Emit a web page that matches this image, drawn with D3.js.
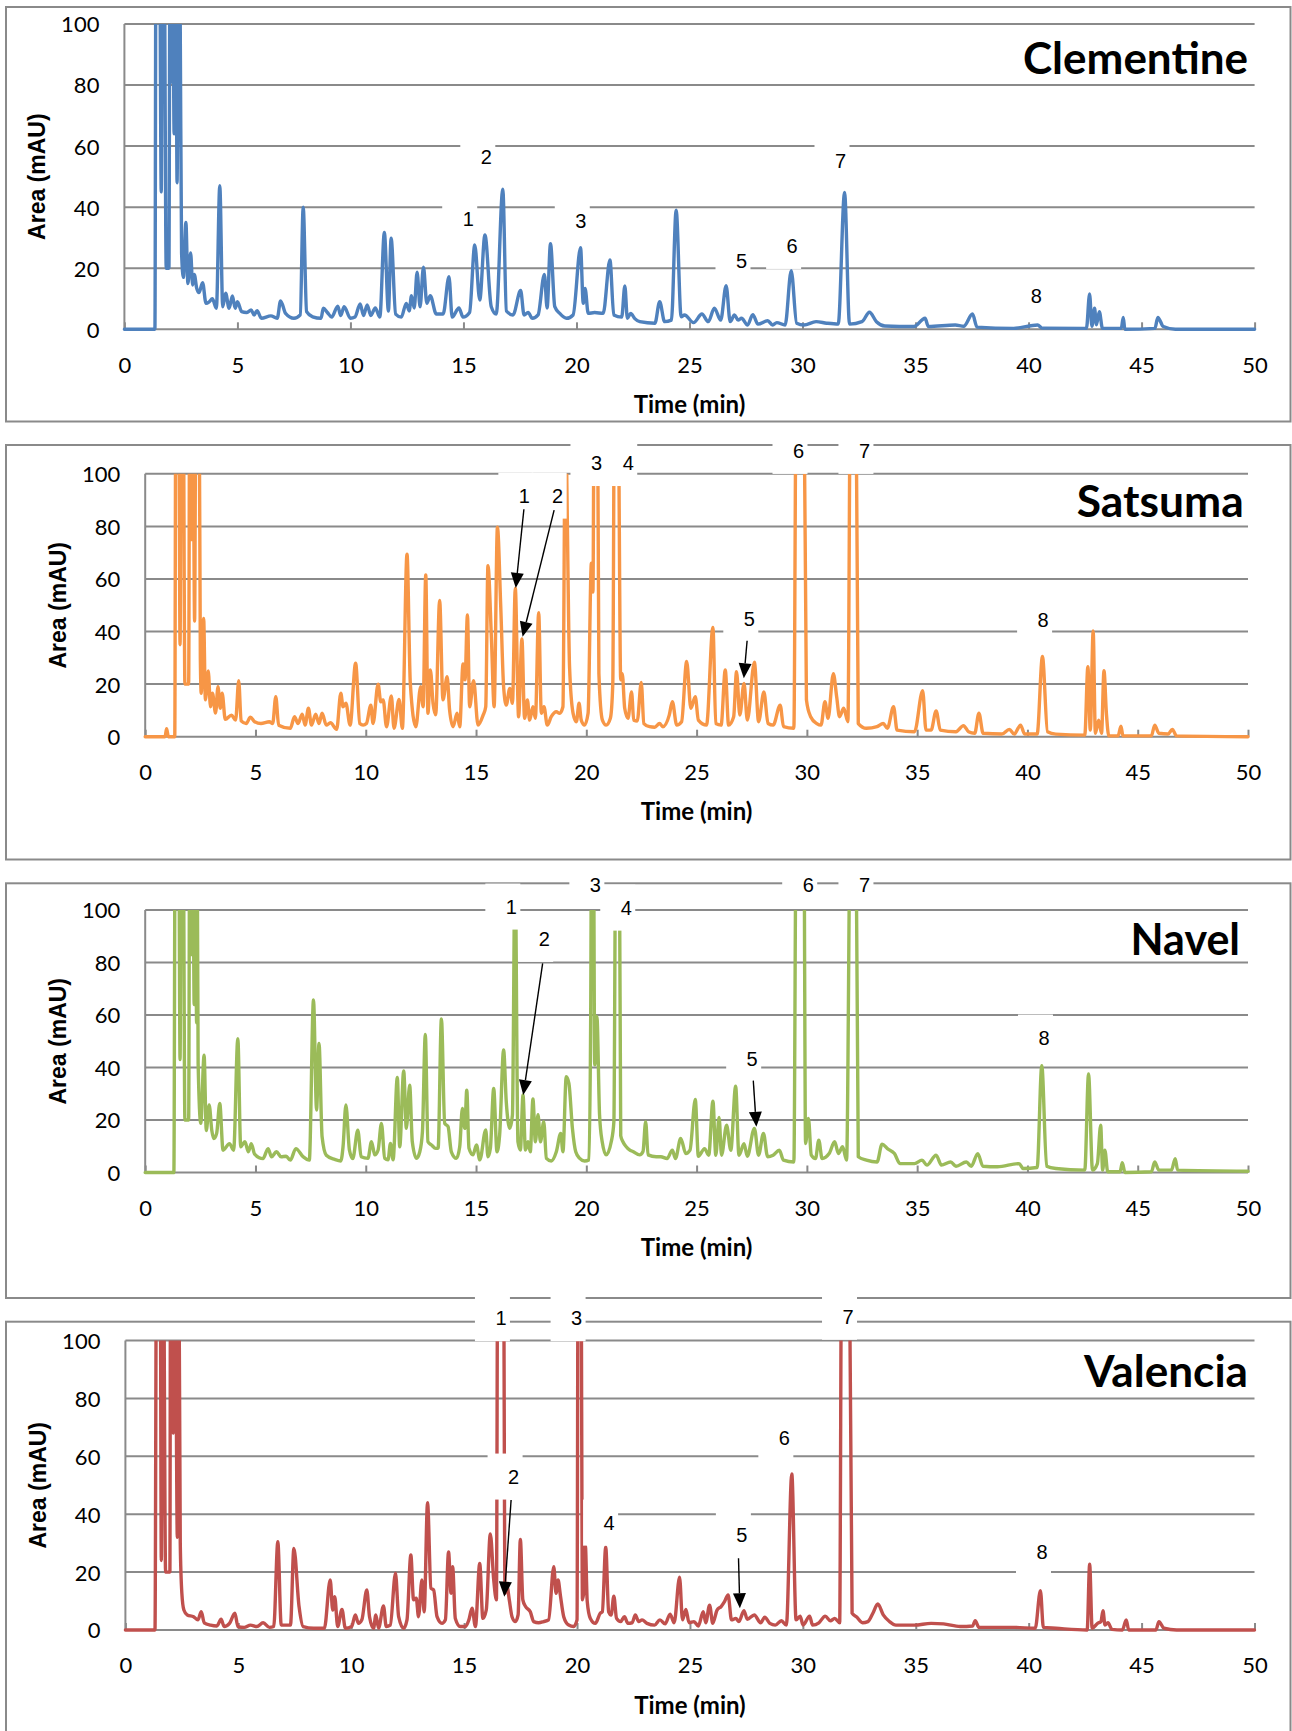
<!DOCTYPE html>
<html><head><meta charset="utf-8">
<script src="https://cdn.jsdelivr.net/npm/d3@7"></script>
<style>html,body{margin:0;padding:0;background:#fff}svg{display:block}</style>
</head><body>
<svg id="chart" width="1292" height="1731"></svg>
<script>
// ---------------- data ----------------
const xTicks = [0,5,10,15,20,25,30,35,40,45,50];
const yTicks = [0,20,40,60,80,100];
const cultivars = ["Clementine","Satsuma","Navel","Valencia"];
const seriesColors = ["#4F81BD","#F79646","#9BBB59","#C0504D"];

// [time (min), absorbance (mAU)] (values above 100 are off-scale)
const clementine = [[0,0],[1.35,0],[1.4,140],[1.55,140],[1.63,45],[1.69,140],[1.75,140],[1.85,20],[1.97,20],[2.02,140],[2.08,81],[2.13,140],[2.2,64],[2.27,140],[2.33,48],[2.4,140],[2.47,100],[2.53,25],[2.61,17],[2.72,35],[2.81,15],[2.93,25],[3.02,14.5],[3.09,18],[3.2,13.4],[3.3,12],[3.46,15.3],[3.61,8.5],[3.75,9],[3.89,10],[4.07,6.9],[4.22,47],[4.35,7.4],[4.48,11.8],[4.63,6.9],[4.78,10.9],[4.9,6.9],[5.0,9],[5.19,5.8],[5.4,5.5],[5.61,6.3],[5.74,4.7],[5.87,6.1],[6.06,3.6],[6.48,4.4],[6.76,3.6],[6.91,9.3],[7.13,5.2],[7.5,3.6],[7.78,4.7],[7.91,40],[8.06,5.8],[8.33,4.1],[8.7,3.6],[8.8,6.9],[8.98,5.5],[9.17,4],[9.44,7.6],[9.57,4.5],[9.72,7.4],[10.0,3.6],[10.2,4],[10.43,8.3],[10.58,4.5],[10.74,8],[10.9,4.5],[11.1,7],[11.3,4],[11.5,31.7],[11.68,6],[11.8,29.8],[12.0,5],[12.25,4],[12.47,8.5],[12.6,6],[12.7,11],[12.82,7],[12.95,18.7],[13.08,7.4],[13.23,20.3],[13.38,8.5],[13.53,11],[13.8,5],[14.1,5],[14.36,17.2],[14.5,4],[14.8,7],[14.98,4],[15.27,5.5],[15.5,27.6],[15.72,9.6],[15.95,30.9],[16.23,7.4],[16.45,5],[16.74,45.9],[16.9,6],[17.19,4.7],[17.53,12.7],[17.68,4.7],[17.86,5.5],[18.05,3.6],[18.3,4.7],[18.58,18],[18.7,7],[18.85,28],[19.04,7.4],[19.26,5.2],[19.56,3.6],[19.85,4.7],[20.18,26.7],[20.3,8.5],[20.38,13.4],[20.52,5.2],[20.8,5.5],[21.18,5.2],[21.48,22.7],[21.65,4.7],[22.0,4],[22.14,14.2],[22.25,3.6],[22.4,5.2],[22.58,3.5],[22.8,2.5],[23.47,2],[23.68,9],[23.9,2.5],[24.2,3],[24.41,39],[24.63,4.1],[24.78,4.7],[25.18,2.2],[25.55,5],[25.83,2.5],[26.1,6.9],[26.38,3],[26.62,14.3],[26.8,2.5],[26.99,4.7],[27.15,3],[27.3,3.6],[27.57,1.4],[27.8,4.8],[28.03,1.7],[28.46,2.8],[28.68,1.4],[28.86,2.2],[29.23,1.4],[29.5,19.2],[29.74,2],[30.06,1.4],[30.6,2.5],[31.07,2],[31.58,1.7],[31.86,44.8],[32.08,1.7],[32.63,2.5],[32.96,5.6],[33.27,2.5],[33.64,1.1],[34.93,0.9],[35.42,3.6],[35.57,0.9],[36.76,1.4],[37.13,1],[37.52,5],[37.72,0.7],[39.34,0.3],[40.4,1.4],[40.6,0.4],[42.56,0.3],[42.7,11.6],[42.8,1],[42.92,6.9],[43.0,1.5],[43.13,5.8],[43.27,0.3],[44.1,0.3],[44.19,3.9],[44.26,0],[45.59,0.3],[45.72,3.9],[45.96,0.9],[46.5,0],[50,0]];

const satsuma = [[0,0],[0.9,0],[0.97,3],[1.05,0],[1.34,0],[1.39,140],[1.52,140],[1.58,35],[1.64,140],[1.72,140],[1.8,20],[1.97,20],[2.02,140],[2.1,75],[2.16,140],[2.24,44],[2.3,140],[2.44,140],[2.5,30],[2.54,16.5],[2.65,45],[2.73,14],[2.86,25],[2.96,11.4],[3.05,16.5],[3.19,9],[3.3,19],[3.4,10.8],[3.49,16.5],[3.63,6.6],[3.91,8.2],[4.1,6.3],[4.24,21.3],[4.35,6],[4.58,5],[4.77,7.4],[4.96,5.7],[5.25,5],[5.63,5.7],[5.78,5],[5.92,15.2],[6.05,4.4],[6.58,3.2],[6.77,7.6],[6.93,5],[7.12,8.6],[7.25,4.4],[7.4,10.8],[7.54,4.4],[7.73,8.6],[7.88,5],[8.02,8.9],[8.21,4.4],[8.4,5.3],[8.68,2.8],[8.87,16.5],[8.97,11.4],[9.1,12.7],[9.29,4.4],[9.54,28],[9.73,5],[9.88,4.4],[10.03,5],[10.23,12],[10.33,5],[10.56,20],[10.68,13.3],[10.79,14],[10.94,3.8],[11.16,15.5],[11.28,3.2],[11.51,14.2],[11.66,3.2],[11.87,69.4],[12.02,20.3],[12.27,3.8],[12.49,19],[12.6,11.4],[12.72,61.5],[12.82,8.9],[12.93,25.4],[13.05,12.7],[13.17,8.3],[13.35,51.8],[13.5,14],[13.69,22.8],[13.8,10.2],[13.96,3.8],[14.14,8.9],[14.26,3.8],[14.41,27.7],[14.5,21.6],[14.61,46.3],[14.71,11.4],[14.89,21.3],[15.09,4.4],[15.32,8.2],[15.44,11.4],[15.54,65],[15.7,36.8],[15.82,11.4],[15.97,79.7],[16.12,49.5],[16.25,19],[16.37,12],[16.53,18.4],[16.65,12.7],[16.78,56.5],[16.93,7.6],[17.08,37.2],[17.2,7],[17.33,14],[17.43,6.3],[17.58,11.4],[17.69,7],[17.84,47.2],[17.96,8.9],[18.08,11.4],[18.23,4.4],[18.41,7.6],[18.64,9.5],[18.79,8.9],[18.94,11.4],[19.05,120],[19.24,26.6],[19.4,8.9],[19.55,5.7],[19.67,12.7],[19.77,6.3],[19.92,4.4],[20.08,8.9],[20.23,66],[20.3,55],[20.36,140],[20.5,140],[20.57,24],[20.73,6.3],[20.9,4.4],[21.09,7],[21.2,20],[21.28,140],[21.43,140],[21.56,21.6],[21.63,24],[21.74,10.8],[21.89,7],[22.05,17],[22.15,6.3],[22.31,6],[22.49,20.6],[22.61,5],[22.87,3.8],[23.1,3.6],[23.32,5],[23.47,3.8],[23.76,8.2],[23.9,13.3],[24.1,4.4],[24.32,5.7],[24.55,28.6],[24.74,10.8],[24.94,15.2],[25.08,6.3],[25.45,4.4],[25.74,41.6],[25.87,5],[26.11,4.4],[26.3,25.4],[26.45,4.4],[26.68,7.6],[26.81,24.7],[26.96,8.2],[27.15,20.3],[27.3,6.3],[27.62,28.3],[27.81,5.7],[28.05,17],[28.24,5],[28.47,4.4],[28.79,12],[28.94,3.8],[29.41,3.2],[29.52,140],[29.86,140],[29.98,14],[30.17,7.6],[30.45,5],[30.64,4.4],[30.82,13.3],[30.96,7],[31.2,24],[31.35,15.2],[31.48,7.6],[31.67,10.8],[31.86,5.7],[31.98,140],[32.22,140],[32.33,5],[32.7,3.2],[33.18,3.8],[33.46,5],[33.65,3.2],[33.93,11.4],[34.09,2.5],[34.88,1.9],[35.25,17.5],[35.4,2.5],[35.63,2.5],[35.86,9.8],[36.05,2.5],[36.76,1.9],[37.1,4.2],[37.33,1.9],[37.61,1.3],[37.8,8.9],[37.99,1.3],[38.84,1],[39.18,2.8],[39.4,1],[39.69,4.4],[39.87,1],[40.44,1],[40.68,30.5],[40.91,1.9],[41.29,1],[42.6,0.6],[42.74,26.6],[42.85,2.5],[42.98,40.2],[43.08,1.3],[43.23,6.3],[43.36,1.3],[43.47,25.1],[43.58,8.9],[43.69,0.3],[44.11,0.3],[44.24,4],[44.33,0.3],[45.62,0.3],[45.77,4.4],[45.96,1.3],[46.38,1],[46.57,2.8],[46.76,0.3],[50,0]];

const navel = [[0,0],[1.3,0],[1.36,140],[1.52,140],[1.58,43],[1.64,140],[1.72,140],[1.8,20],[1.97,20],[2.02,140],[2.1,83],[2.16,140],[2.22,64],[2.28,140],[2.33,57],[2.37,100],[2.4,41.5],[2.52,18.7],[2.67,44.7],[2.77,16],[2.9,25.7],[3.02,16],[3.11,12.9],[3.24,14.9],[3.38,26.3],[3.53,8.5],[3.82,11],[4.01,8.5],[4.2,51],[4.33,9.8],[4.52,11.7],[4.68,7.9],[4.81,11],[4.96,7],[5.34,5.3],[5.57,9.1],[5.73,6],[5.95,7.9],[6.16,6],[6.39,6.2],[6.58,4.7],[6.83,9.1],[7.16,6],[7.44,4.7],[7.63,65.7],[7.77,23.8],[7.88,49.2],[8.02,13.6],[8.21,6.6],[8.59,5],[8.87,4.4],[8.97,9.8],[9.1,25.7],[9.26,8.5],[9.41,5.3],[9.64,16.1],[9.79,6],[10.1,5.4],[10.26,11.7],[10.41,6.7],[10.56,8.6],[10.71,18.7],[10.86,5.4],[11.01,4.8],[11.12,11.1],[11.24,4.8],[11.43,36.2],[11.54,9.8],[11.72,38.7],[11.84,16.8],[11.99,33.3],[12.11,11.7],[12.3,5.4],[12.45,7.9],[12.57,15.6],[12.7,52.6],[12.82,11.7],[12.98,10.5],[13.17,9.2],[13.28,9.2],[13.43,58.5],[13.58,18.7],[13.73,17.5],[13.88,7.9],[14.11,5.4],[14.26,9.8],[14.38,24.4],[14.49,16.8],[14.58,31.4],[14.68,9.2],[14.86,6.7],[15.02,10.5],[15.17,4.8],[15.44,16.2],[15.54,6],[15.65,9.2],[15.8,32],[15.95,7.9],[16.07,14.3],[16.25,46.7],[16.37,27],[16.53,16.8],[16.65,21.9],[16.77,120],[16.9,11.7],[17.01,8.6],[17.13,29.5],[17.24,8.6],[17.36,11.7],[17.46,7.9],[17.58,28],[17.69,11.7],[17.81,22],[17.92,11.7],[18.07,19.4],[18.19,5.4],[18.41,4.4],[18.64,7.9],[18.84,14.9],[18.94,7.9],[19.09,36.5],[19.21,34],[19.37,16.8],[19.52,7.9],[19.7,5.4],[19.92,4.4],[20.12,4.8],[20.2,62.5],[20.24,140],[20.32,140],[20.38,41],[20.48,59.4],[20.6,22],[20.72,11.7],[20.9,6.7],[21.13,11.7],[21.25,19.4],[21.33,120],[21.5,120],[21.56,14],[21.66,11.7],[21.81,9.8],[21.96,8.6],[22.11,8],[22.42,6.7],[22.57,8],[22.69,19.4],[22.8,6.7],[23.17,6],[23.38,6],[23.66,5.3],[23.9,8.5],[24.04,5.3],[24.28,13],[24.51,7.2],[24.7,8.5],[24.94,27.8],[25.08,6.2],[25.36,9.1],[25.55,6.6],[25.74,27.2],[25.87,6.6],[26.02,21],[26.13,6.6],[26.36,18],[26.55,8.5],[26.77,32.9],[26.92,6.6],[27.15,11],[27.3,6.2],[27.62,16.8],[27.81,6.6],[28.03,14.9],[28.22,6],[28.47,6.6],[28.75,8.5],[28.94,4.7],[29.41,4],[29.52,140],[29.86,140],[29.94,11],[30.07,20.6],[30.2,6.6],[30.39,5.3],[30.54,12.3],[30.69,5.3],[31.01,7.2],[31.26,11.7],[31.43,7.2],[31.62,9.8],[31.8,4.7],[31.98,140],[32.22,140],[32.33,6],[32.7,4.7],[33.18,4],[33.41,10.8],[33.65,9.1],[33.97,7.2],[34.22,3.4],[34.88,3.4],[35.22,4.7],[35.44,2.8],[35.86,6.6],[36.1,2.8],[36.52,4],[36.76,2.4],[37.23,4],[37.45,2.4],[37.75,7.2],[37.98,2.4],[38.64,2.2],[39.62,3.4],[39.81,1.5],[40.44,1.9],[40.65,40.7],[40.87,2.4],[41.29,1.5],[42.6,0.9],[42.77,37.5],[42.95,0.9],[43.17,3.4],[43.32,18],[43.41,0.9],[43.51,8.5],[43.64,0.3],[44.2,0.3],[44.3,3.7],[44.42,0],[45.62,0.3],[45.77,4],[45.96,0.9],[46.53,0.9],[46.7,5.3],[46.81,0.9],[50,0.5]];

const valencia = [[0,0],[1.31,0],[1.38,140],[1.54,140],[1.59,24],[1.64,140],[1.68,140],[1.78,20],[1.97,20],[2.0,140],[2.12,68],[2.2,140],[2.3,32],[2.36,140],[2.43,30],[2.5,12.7],[2.59,6.9],[2.74,5.2],[3.02,4.6],[3.21,3.5],[3.36,6.3],[3.49,2.5],[3.77,1.7],[4.05,1.4],[4.24,3.7],[4.37,1.2],[4.61,2.3],[4.85,5.8],[4.98,1.2],[5.26,0.9],[5.54,1.7],[5.82,1.2],[6.1,2.5],[6.38,0.9],[6.57,1.2],[6.75,30.5],[6.9,1.7],[7.31,1.7],[7.46,28.2],[7.69,8.1],[7.87,1.2],[8.34,0.6],[8.81,0.6],[9.07,17.3],[9.18,6.9],[9.27,11.5],[9.4,1.2],[9.59,7.1],[9.74,0.6],[10.02,1.2],[10.18,5.2],[10.32,2.3],[10.47,3.5],[10.69,13.8],[10.81,4.6],[10.99,0.6],[11.09,5.2],[11.21,0.6],[11.43,8.3],[11.55,1.2],[11.73,1.7],[11.96,19.6],[12.1,4.6],[12.32,0.6],[12.47,3.5],[12.64,25.9],[12.76,10.4],[12.88,11],[12.98,4.6],[13.13,17.3],[13.23,6.3],[13.38,44],[13.53,14.4],[13.65,13.8],[13.8,4.6],[14.02,2.3],[14.17,3.5],[14.31,27],[14.42,12.7],[14.49,21.9],[14.61,4],[14.83,1.2],[15.06,1.2],[15.21,3.5],[15.35,7.5],[15.5,1.2],[15.69,23],[15.83,4],[15.98,6.9],[16.16,33.2],[16.31,17.3],[16.43,10.4],[16.49,140],[16.74,140],[16.81,12.7],[16.9,15],[17.0,10.4],[17.12,4.6],[17.27,2.9],[17.39,5.2],[17.49,31.3],[17.6,10.4],[17.72,8.1],[17.93,6.3],[18.08,2.9],[18.3,2.5],[18.52,2.9],[18.74,3.5],[18.97,21.9],[19.07,12.7],[19.16,17.3],[19.26,12.1],[19.41,4.6],[19.63,1.7],[19.85,1.2],[20.0,3.5],[20.05,140],[20.17,140],[20.24,10.4],[20.31,14],[20.37,29],[20.45,10],[20.59,4],[20.81,2.3],[21.03,5.8],[21.12,6.3],[21.27,28.6],[21.4,6.3],[21.51,5.2],[21.63,11.7],[21.75,4],[21.93,2.9],[22.1,4.6],[22.25,2.3],[22.44,2.5],[22.58,5.2],[22.73,2.9],[22.88,3.5],[23.1,2.3],[23.43,1.7],[23.67,3.5],[23.9,2.1],[24.12,5.5],[24.3,2.5],[24.54,18.2],[24.67,3.5],[24.82,7.1],[24.96,2.5],[25.18,2.9],[25.37,1.4],[25.59,6.3],[25.7,2.5],[25.87,8.6],[26.01,2.3],[26.2,6.9],[26.38,8.1],[26.53,9.8],[26.69,12.1],[26.84,3.5],[27.03,4],[27.17,2.9],[27.39,6.7],[27.54,3.7],[27.85,5.2],[28.13,2.5],[28.31,4.4],[28.54,2.3],[28.78,1.7],[29.05,3.2],[29.27,1.7],[29.51,53.9],[29.7,3.5],[29.88,4.8],[30.01,1.7],[30.3,4.8],[30.43,1.7],[30.71,2.5],[30.99,4.8],[31.22,3.2],[31.41,4],[31.63,2.5],[31.72,140],[32.05,140],[32.18,5.8],[32.37,4.6],[32.64,2.5],[32.88,2.9],[33.1,5.8],[33.32,9],[33.56,5.2],[33.84,2.9],[34.12,1.7],[34.94,1.7],[35.68,2.3],[36.23,2.1],[36.97,1.2],[37.52,1.4],[37.63,3.2],[37.8,0.9],[39.36,0.9],[40.29,0.6],[40.52,13.6],[40.65,0.9],[41.21,0.6],[42.59,0],[42.7,22.7],[42.81,0.6],[43.05,2.3],[43.2,2.9],[43.29,6.7],[43.38,1.7],[43.51,2.5],[43.69,0.2],[44.15,0],[44.32,3.5],[44.43,0],[45.63,0],[45.77,2.9],[45.99,0.6],[46.55,0],[50,0]];

// peak labels: [text, time, mAU] (label centre in data units)
const clementineLabels = [["1",15.21,36.1],["2",16.01,56.4],["3",20.19,35.6],["5",27.3,22.5],["6",29.54,27.3],["7",31.68,55.1],["8",40.34,10.9]];
const satsumaLabels = [["1",17.19,91.7],["2",18.7,91.7],["3",20.46,104.1],["4",21.9,104.1],["5",27.39,45],["6",29.62,108.7],["7",32.61,108.7],["8",40.71,44.4]];
const navelLabels = [["1",16.6,101.3],["2",18.09,89],["3",20.41,109.5],["4",21.81,100.9],["5",27.52,43.5],["6",30.06,109.5],["7",32.61,109.5],["8",40.75,51.4]];
const valenciaLabels = [["1",16.63,107.7],["3",19.98,107.7],["2",17.19,53],["4",21.42,37.1],["5",27.3,32.8],["6",29.18,66.4],["7",32.0,108.2],["8",40.59,27]];

// arrows: [[fromTime, frommAU],[toTime, tomAU]]
const clementineArrows = [];
const satsumaArrows = [[[17.17,86.5],[16.8,56.6]],[[18.54,86.2],[17.11,38]],[[27.29,36.5],[27.14,22.2]]];
const navelArrows = [[[18.02,79.7],[17.14,29.5]],[[27.57,35],[27.71,17.4]]];
const valenciaArrows = [[[17.08,44.9],[16.78,11.5]],[[27.15,24.8],[27.21,7.5]]];

// ---------------- layout (pixels) ----------------
const frameX = [6, 1290.5];
const panels = [
  {left:124.4, right:1254.6, y100:24,     y0:329.3, bTop:7,      bBot:421.5, titleX:1248,   titleY:74,   titleW:225},
  {left:145.2, right:1248,   y100:473.8,  y0:736.7, bTop:445,    bBot:859.5, titleX:1243.7, titleY:517,  titleW:167},
  {left:145.2, right:1248,   y100:910,    y0:1172.5,bTop:883.3,  bBot:1298,  titleX:1240,   titleY:955,  titleW:109.4},
  {left:125.4, right:1254.5, y100:1340.5, y0:1630,  bTop:1321.7, bBot:1736,  titleX:1248,   titleY:1387, titleW:164}
];
const seriesData = [clementine, satsuma, navel, valencia];
const seriesLabels = [clementineLabels, satsumaLabels, navelLabels, valenciaLabels];
const seriesArrows = [clementineArrows, satsumaArrows, navelArrows, valenciaArrows];

const GRID = "#8a8a8a";
const svg = d3.select("#chart");
const overlay = [];

panels.forEach((p, i) => {
  const x = d3.scaleLinear().domain([0, 50]).range([p.left, p.right]);
  const y = d3.scaleLinear().domain([0, 100]).range([p.y0, p.y100]);
  const g = svg.append("g");

  g.append("rect").attr("x", frameX[0]).attr("y", p.bTop)
    .attr("width", frameX[1]-frameX[0]).attr("height", p.bBot-p.bTop)
    .attr("fill", "none").attr("stroke", GRID).attr("stroke-width", 2);

  g.append("g").selectAll("line").data(yTicks).join("line")
    .attr("x1", p.left).attr("x2", p.right)
    .attr("y1", d => y(d)).attr("y2", d => y(d))
    .attr("stroke", GRID).attr("stroke-width", 2);
  g.append("line").attr("x1", p.left).attr("x2", p.left).attr("y1", y(0)).attr("y2", y(100))
    .attr("stroke", GRID).attr("stroke-width", 2);

  const xa = d3.axisBottom(x).tickValues(xTicks).tickSize(-7).tickPadding(0).tickFormat(d3.format("d"));
  const xg = g.append("g").attr("transform", `translate(0,${y(0)})`).call(xa);
  xg.select(".domain").remove();
  xg.selectAll(".tick line").attr("stroke", GRID).attr("stroke-width", 2);
  xg.selectAll(".tick text").attr("y", 35.5).attr("dy", "0.36em")
    .attr("font-family", "Lato, 'Open Sans', sans-serif").attr("font-size", 22).attr("fill", "#000");

  const ya = d3.axisLeft(y).tickValues(yTicks).tickSize(0).tickPadding(25);
  const yg = g.append("g").attr("transform", `translate(${p.left},0)`).call(ya);
  yg.select(".domain").remove();
  yg.selectAll(".tick text").attr("dy", "0.36em")
    .attr("font-family", "Lato, 'Open Sans', sans-serif").attr("font-size", 22).attr("fill", "#000");

  g.append("text").attr("transform", `translate(${p.left-87.5},${(y(0)+y(100))/2}) rotate(-90)`)
    .attr("text-anchor", "middle").attr("dy", "0.36em")
    .attr("font-family", "'Liberation Sans', Arial, sans-serif").attr("font-weight", "bold")
    .attr("font-size", 23).text("Area (mAU)");
  g.append("text").attr("x", (p.left+p.right)/2).attr("y", y(0)+75).attr("dy", "0.36em")
    .attr("text-anchor", "middle")
    .attr("font-family", "Lato, sans-serif").attr("font-weight", "bold")
    .attr("font-size", 24).text("Time (min)");

  const clipId = "clip" + i;
  svg.append("clipPath").attr("id", clipId).append("rect")
    .attr("x", p.left - 3).attr("y", y(100)).attr("width", p.right - p.left + 6).attr("height", y(0) - y(100) + 6);
  const line = d3.line().x(d => x(d[0])).y(d => y(d[1])).curve(d3.curveMonotoneX);
  g.append("path").datum(seriesData[i]).attr("clip-path", `url(#${clipId})`)
    .attr("d", line).attr("fill", "none").attr("stroke", seriesColors[i])
    .attr("stroke-width", 3.4).attr("stroke-linejoin", "round").attr("stroke-linecap", "round");

  g.append("text").attr("x", p.titleX).attr("y", p.titleY).attr("text-anchor", "end")
    .attr("font-family", "Lato, sans-serif").attr("font-weight", "bold").attr("font-size", 43)
    .attr("textLength", p.titleW).attr("lengthAdjust", "spacingAndGlyphs")
    .text(cultivars[i]);

  overlay.push({x, y, labels: seriesLabels[i], arrows: seriesArrows[i]});
});

const overlayG = svg.append("g");
overlay.forEach(o => {
  o.labels.forEach(([txt, t, v]) => {
    overlayG.append("rect").attr("x", o.x(t) - 26).attr("y", o.y(v) - 23)
      .attr("width", 35).attr("height", 46).attr("fill", "#fff");
  });
});
overlay.forEach(o => {
  o.labels.forEach(([txt, t, v]) => {
    overlayG.append("text").attr("x", o.x(t)).attr("y", o.y(v)).attr("dy", "0.36em")
      .attr("text-anchor", "middle").attr("font-family", "'Liberation Sans', Arial, sans-serif")
      .attr("font-size", 20).attr("fill", "#000").text(txt);
  });
  o.arrows.forEach(([a, b]) => {
    const x1 = o.x(a[0]), y1 = o.y(a[1]), x2 = o.x(b[0]), y2 = o.y(b[1]);
    const ang = Math.atan2(y2 - y1, x2 - x1);
    const L = 15, W = 6.5;
    const bx = x2 - L * Math.cos(ang), by = y2 - L * Math.sin(ang);
    overlayG.append("line").attr("x1", x1).attr("y1", y1).attr("x2", bx).attr("y2", by)
      .attr("stroke", "#000").attr("stroke-width", 1.4);
    const px = -Math.sin(ang), py = Math.cos(ang);
    overlayG.append("polygon").attr("points",
      [[x2, y2], [bx + W*px, by + W*py], [bx - W*px, by - W*py]].map(d => d.join(",")).join(" "))
      .attr("fill", "#000");
  });
});
</script>
</body></html>
